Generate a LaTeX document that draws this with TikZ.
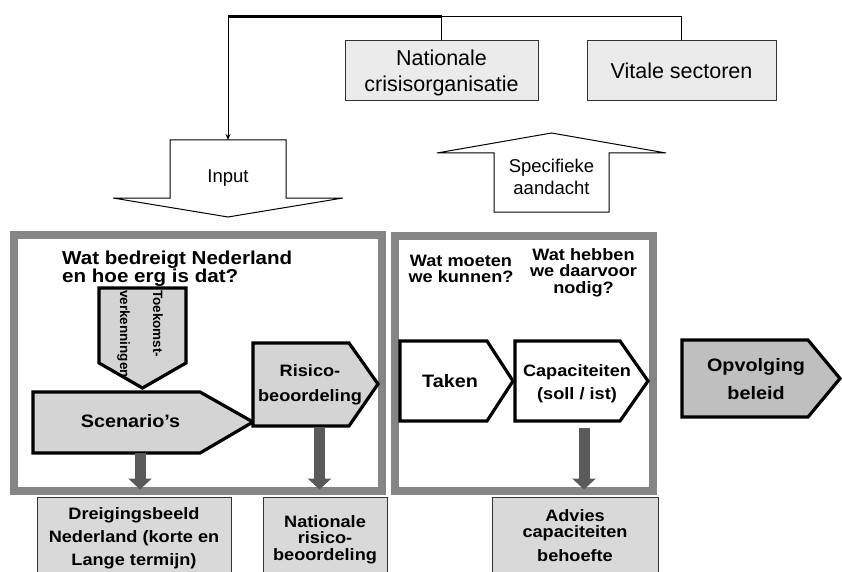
\documentclass[tikz,border=0pt]{standalone}
\usepackage{fontspec}
\setmainfont{Liberation Sans}
\newfontfamily\bw[FakeStretch=1.1]{Liberation Sans}
\usetikzlibrary{arrows.meta}
\definecolor{framegray}{HTML}{858585}
\definecolor{shapegray}{HTML}{D4D4D4}
\definecolor{boxgray}{HTML}{D9D9D9}
\definecolor{topgray}{HTML}{EBEBEB}
\definecolor{optgray}{HTML}{BFBFBF}
\definecolor{darkarrow}{HTML}{5A5A5A}
\begin{document}
\begin{tikzpicture}[x=1pt,y=-1pt,
  bt/.style={font=\bw\bfseries\fontsize{16.5}{24}\selectfont, align=center, inner sep=0pt, text depth=0pt},
  rt/.style={font=\fontsize{21.5}{26}\selectfont, align=center, inner sep=0pt, text depth=0pt},
  st/.style={font=\fontsize{18.5}{22.3}\selectfont, align=center, inner sep=0pt, text depth=0pt},
  frame/.style={draw=framegray, line width=8pt, fill=white},
  pent/.style={draw=black, line width=3.2pt, line join=miter, fill=shapegray},
  bigarrow/.style={draw=black, line width=1pt, fill=white, line join=miter},
  outbox/.style={draw=black!80, line width=1pt, fill=boxgray, inner sep=0pt, align=center,
     font=\bw\bfseries\fontsize{16.5}{16.5}\selectfont},
  topbox/.style={draw=black!80, line width=1pt, fill=topgray},
  darr/.style={draw=darkarrow, line width=11pt, -{Triangle[width=23pt,length=11pt]}},
  conn/.style={draw=black, line width=1pt},
]
\useasboundingbox (0,0) rectangle (842,572);
\clip (0,0) rectangle (842,572);
\fill[white] (0,0) rectangle (842,572);

% top boxes
\node[topbox, rt, minimum width=193pt, minimum height=60pt] (nco) at (441.5,71) {Nationale\\crisisorganisatie};
\node[topbox, rt, minimum width=189pt, minimum height=60pt] (vs) at (681.5,71) {Vitale sectoren};

% Input arrow
\path[bigarrow] (170,140) -- (286,140) -- (286,198) -- (343,198) -- (228,217) -- (113,198) -- (170,198) -- cycle;
\node[st] (input) at (228,176) {Input};
\coordinate (inputtop) at (228,140);

% Specifieke aandacht arrow
\path[bigarrow] (494,212) -- (609,212) -- (609,153) -- (666,153) -- (551.5,133) -- (437,153) -- (494,153) -- cycle;
\node[st] (spec) at (551.5,177) {Specifieke\\aandacht};

% connectors at top
\coordinate (j) at (441.5,16.5);
\draw[conn] (nco.north) -- (j);
\draw[conn] (vs.north) |- (j);
\draw[draw=black, line width=2.6pt] ([xshift=0.5pt]j) -- (j -| inputtop);
\draw[conn, -{Stealth[length=6pt,width=5pt]}] (j -| inputtop) -- (inputtop);

% frames
\draw[frame] (14,235) rectangle (382,491);
\draw[frame] (395,236) rectangle (653,491);

% left frame content
\node[bt, font=\bw\bfseries\fontsize{18.7}{18.5}\selectfont, align=left, anchor=west] (q1) at (62,266.5) {Wat bedreigt Nederland\\en hoe erg is dat?};

\path[pent] (99,288) -- (186,288) -- (186,363) -- (142.5,388) -- (99,363) -- cycle;
\node[rotate=-90, font=\bfseries\fontsize{13.5}{33}\selectfont, align=left, inner sep=0pt] (tk) at (140,334) {Toekomst-\\verkenningen};

\path[pent] (33,392) -- (200,392) -- (253,422) -- (200,453) -- (33,453) -- cycle;
\node[bt, font=\bw\bfseries\fontsize{18}{24}\selectfont] (scen) at (130.5,421.4) {Scenario’s};

\path[pent] (253,343) -- (349,343) -- (378,384) -- (349,426) -- (253,426) -- cycle;
\node[bt, font=\bw\bfseries\fontsize{16.5}{25}\selectfont] (risico) at (310,383.5) {Risico-\\beoordeling};

% right frame content
\node[bt, font=\bw\bfseries\fontsize{16.5}{16.3}\selectfont] (q2) at (461,268.9) {Wat moeten\\we kunnen?};
\node[bt, font=\bw\bfseries\fontsize{16.5}{16.2}\selectfont] (q3) at (583.5,270.9) {Wat hebben\\we daarvoor\\nodig?};

\path[pent, fill=white] (400,341) -- (487,341) -- (513,381) -- (487,421) -- (400,421) -- cycle;
\node[bt, font=\bw\bfseries\fontsize{18}{24}\selectfont] (taken) at (450,381.4) {Taken};

\path[pent, fill=white] (515,341) -- (620,341) -- (648,381) -- (620,421) -- (515,421) -- cycle;
\node[bt, font=\bw\bfseries\fontsize{16.5}{23}\selectfont] (cap) at (577,382.5) {Capaciteiten\\(soll / ist)};

% Opvolging beleid
\path[pent, fill=optgray] (682,340) -- (808,340) -- (840,378.5) -- (808,417) -- (682,417) -- cycle;
\node[bt, font=\bw\bfseries\fontsize{18}{28}\selectfont] (opv) at (756,378.5) {Opvolging\\beleid};

% down arrows
\coordinate (scenS) at (140,453);
\coordinate (risS) at (319.5,428);
\coordinate (capS) at (584,428);
\coordinate (fbot) at (0,489.5);
\draw[darr] (scenS) -- (scenS |- fbot);
\draw[darr] (risS) -- (risS |- fbot);
\draw[darr] (capS) -- (capS |- fbot);

% bottom boxes
\node[outbox, minimum width=194pt, minimum height=81.6pt, font=\bw\bfseries\fontsize{16.5}{23}\selectfont] (dreig) at (134,537.8) {Dreigingsbeeld\\Nederland (korte en\\Lange termijn)};
\node[outbox, minimum width=124pt, minimum height=84.6pt] (nrb) at (325,539.3) {Nationale\\risico-\\beoordeling};
\node[outbox, minimum width=166pt, minimum height=78pt, font=\bw\bfseries\fontsize{16.5}{16}\selectfont] (advies) at (575,536) {Advies\\capaciteiten\\[8pt]behoefte};
\end{tikzpicture}
\end{document}
